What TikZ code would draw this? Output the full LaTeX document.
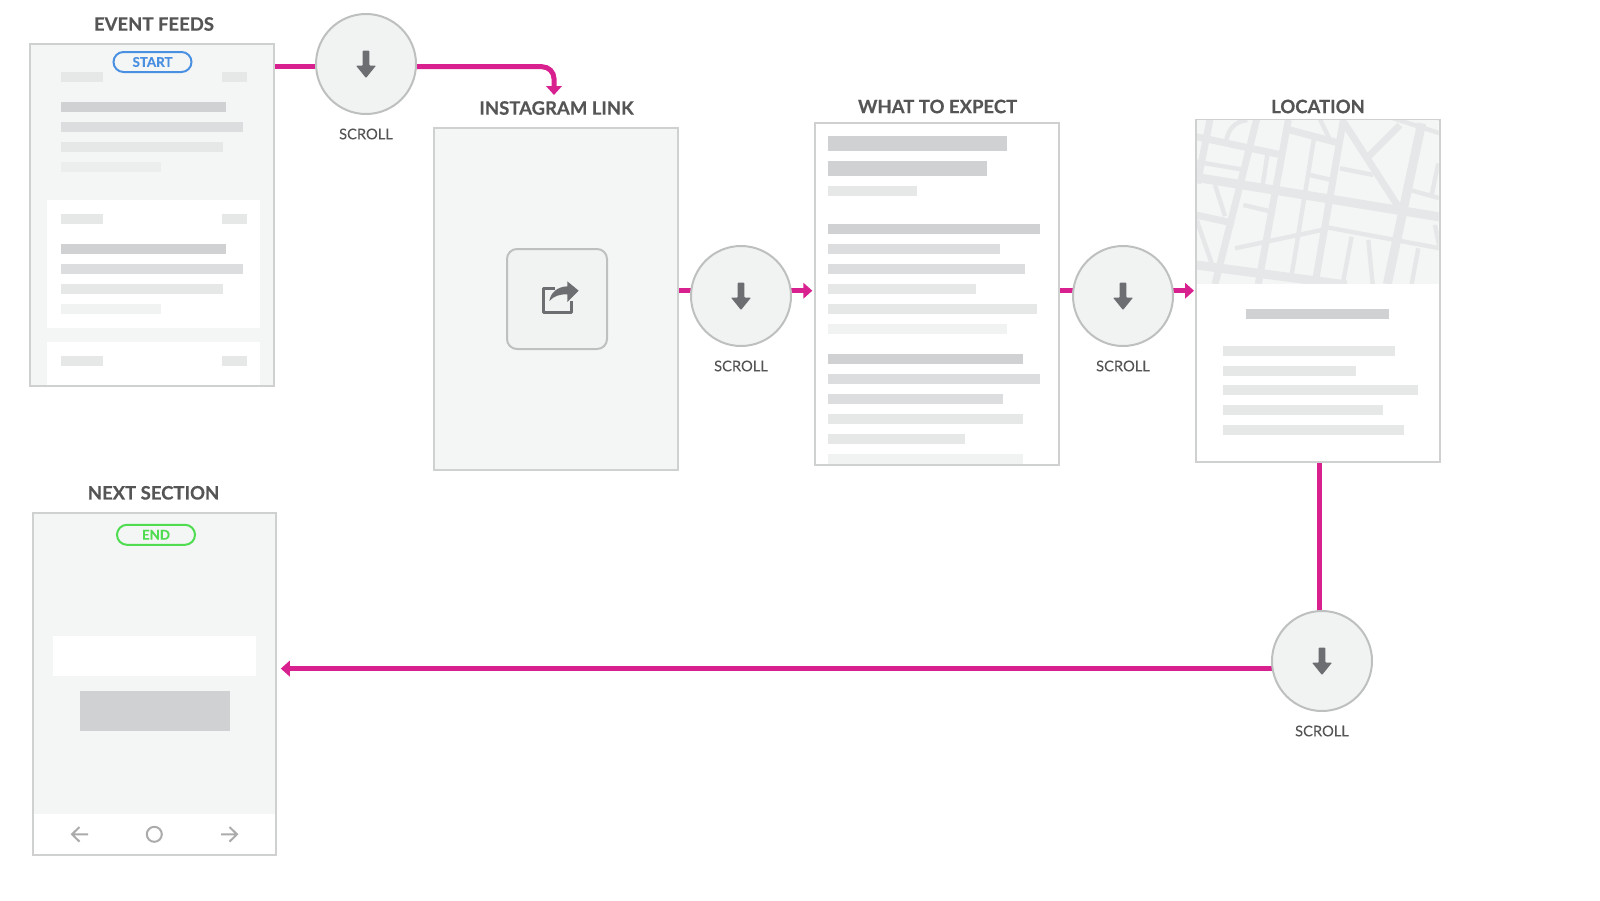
\documentclass[tikz,border=0pt]{standalone}
\usepackage{fontspec}
\setmainfont{Lato}
\newfontfamily\heavyfont[FakeBold=0.5]{Lato Bold}
\newfontfamily\scrollfont[FakeBold=0.12]{Lato}
\usetikzlibrary{arrows.meta,backgrounds}

\definecolor{flowpink}{HTML}{D9208F}
\definecolor{cardline}{HTML}{CFD1D1}
\definecolor{cardfill}{HTML}{F4F6F5}
\definecolor{ringline}{HTML}{BEBFBF}
\definecolor{ringfill}{HTML}{F1F2F2}
\definecolor{iconfill}{HTML}{6D6E71}
\definecolor{inktext}{HTML}{555555}
\definecolor{barA}{HTML}{D0D1D3}
\definecolor{barB}{HTML}{DCDDDE}
\definecolor{barC}{HTML}{E6E7E7}
\definecolor{barD}{HTML}{F1F2F2}
\definecolor{barE}{HTML}{ECEDED}
\definecolor{street}{HTML}{E6E7E8}
\definecolor{navgrey}{HTML}{ABABAB}
\definecolor{startblue}{HTML}{4A90E2}
\definecolor{endgreen}{HTML}{4FDC50}

\tikzset{
  card/.style={draw=cardline, line width=2pt, minimum width=243.8pt, minimum height=342pt, inner sep=0pt},
  ring/.style={circle, draw=ringline, fill=ringfill, line width=2pt, minimum size=100pt, inner sep=0pt},
  title/.style={text=inktext, font=\fontsize{18.5}{20}\heavyfont},
  scrolltext/.style={text=inktext, font=\fontsize{14.7}{16}\scrollfont},
  pill/.style={draw=#1, text=#1, line width=2pt, rounded corners=10pt, minimum width=78pt, minimum height=20pt, inner sep=0pt, font=\fontsize{13.3}{14}\heavyfont},
  flow/.style={draw=flowpink, line width=5pt},
  flowtip/.style={flow, -{Triangle[length=9pt,width=15.5pt]}},
  streetwide/.style={draw=street, line width=9pt},
  streetmid/.style={draw=street, line width=7pt},
  streetthin/.style={draw=street, line width=4.4pt},
  navline/.style={draw=navgrey, line width=2pt}
}

\begin{document}
\begin{tikzpicture}[x=1pt,y=-1pt]
\useasboundingbox (0,0) rectangle (1600,900);

% cards
\node[card, fill=cardfill] (feeds) at (152.3,215) {};
\node[card, fill=cardfill] (insta) at (556.2,298.6) {};
\node[card, fill=white] (expect) at (936.7,294) {};
\node[card, fill=white] (location) at (1317.9,291) {};
\node[card, fill=cardfill] (nextsec) at (154.4,683.8) {};

\node[title] (feedsTitle) at (154,24) {EVENT FEEDS};
\node[title] (instaTitle) at (556.6,108) {INSTAGRAM LINK};
\node[title] (expectTitle) at (937.6,106.5) {WHAT TO EXPECT};
\node[title] (locationTitle) at (1318,106.5) {LOCATION};
\node[title] (nextTitle) at (153.5,492.8) {NEXT SECTION};

% scroll circles
\node[ring] (scrollA) at (366,64) {};
\node[ring] (scrollB) at (741,296) {};
\node[ring] (scrollC) at (1123,296) {};
\node[ring] (scrollD) at (1322,661) {};

\node[scrolltext] (scrollAText) at (366,134) {SCROLL};
\node[scrolltext] (scrollBText) at (741,366) {SCROLL};
\node[scrolltext] (scrollCText) at (1123,366) {SCROLL};
\node[scrolltext] (scrollDText) at (1322,731) {SCROLL};

\foreach \n in {scrollA,scrollB,scrollC,scrollD}
  \fill[iconfill, shift={(\n)}, rounded corners=0.8pt] (-3.3,-13.3) -- (3.3,-13.3) -- (3.3,1.6) -- (10,1.6) -- (0,14) -- (-10,1.6) -- (-3.3,1.6) -- cycle;

% connectors
\begin{scope}[on background layer]
\coordinate (instaIn) at (554,95);
\draw[flow] (feeds.east |- 0,66.7) -- (scrollA.center |- 0,66.7);
\draw[flowtip, rounded corners=12pt] (scrollA.center |- 0,66.7) -| (instaIn);
\draw[flow] (insta.east |- 0,290.7) -- (scrollB.center |- 0,290.7);
\draw[flowtip, shorten >=1.5pt] (scrollB.center |- 0,290.7) -- (expect.west |- 0,290.7);
\draw[flow] (expect.east |- 0,290.7) -- (scrollC.center |- 0,290.7);
\draw[flowtip, shorten >=1pt] (scrollC.center |- 0,290.7) -- (location.west |- 0,290.7);
\draw[flow] ([xshift=2pt]location.south) -- ([xshift=2pt]location.south |- scrollD.center);
\draw[flowtip, shorten >=3.5pt] (scrollD.center |- 0,668.6) -- (nextsec.east |- 0,668.6);
\end{scope}

% event feeds
\fill[white] (47,200) rectangle (260,327.7);
\fill[white] (47,342) rectangle (260,384.8);
\foreach \xa/\xb/\ya/\c in {61/102.5/72/barC, 222/247/72/barC, 61/226/102/barA, 61/243/122/barB, 61/223/142/barC, 61/161/162/barE,
    61/102.5/214/barC, 222/247/214/barC, 61/226/244/barA, 61/243/264/barB, 61/223/284/barC, 61/161/304/barD,
    61/102.5/356/barC, 222/247/356/barC}
  \fill[\c] (\xa,\ya) rectangle (\xb,\ya+10);
\node[pill=startblue] (startTag) at (152.5,62) {\raisebox{-0.7pt}{START}};

% instagram link
\node[draw=ringline, fill=ringfill, line width=2pt, rounded corners=10pt, minimum size=100pt, inner sep=0pt] (shareBox) at (557,299) {};
\begin{scope}[shift={(480,230)},x=0.3333pt,y=-0.3333pt]
\draw[iconfill, line width=3pt, line join=round] (226,177) -- (191,177) -- (191,248) -- (276,248) -- (276,214);
\fill[iconfill] (296,182) -- (262,154) -- (262,169) .. controls (232,170) and (212,188) .. (208,213) .. controls (222,198) and (240,192) .. (262,193) -- (262,216) -- cycle;
\end{scope}

% what to expect
\foreach \xb/\ya/\yb/\c in {1007.3/136/150.7/barA, 987.3/161/176/barA, 917.3/186/196/barC,
    1040/224/234/barA, 1000/244/254/barB, 1025/264/274/barB, 976/284/294/barC, 1037/304/314/barC, 1007.3/324/334/barD,
    1023.3/354/364/barA, 1040/374/384/barB, 1003/394/404/barB, 1023.3/414/424/barC, 965.3/434/444/barC, 1023.3/454/464/barD}
  \fill[\c] (828,\ya) rectangle (\xb,\yb);

% location map
\begin{scope}[shift={(1160,100)},x=0.3333pt,y=-0.3333pt]
\clip (111,61) rectangle (836,552);
\fill[cardfill] (111,61) rectangle (836,552);
\draw[streetwide] (108,232) -- (840,351) (785,70) -- (682,552) (108,495) -- (560,555);
\draw[streetmid] (150,58) -- (112,250) (290,58) -- (165,552) (385,60) -- (295,552) (550,60) -- (465,552)
  (108,110) -- (375,167) (390,90) -- (540,130) (108,345) -- (222,370) (550,65) -- (715,320) (625,170) -- (720,75);
\draw[streetthin] (462,115) -- (395,525) (225,445) -- (485,390) (490,380) -- (840,445) (108,185) -- (255,210)
  (250,315) -- (335,335) (450,225) -- (515,240) (540,205) -- (640,225) (750,270) -- (840,295) (700,55) -- (840,100)
  (480,58) -- (510,120) (322,165) -- (308,255) (165,255) -- (195,348) (110,360) -- (155,490)
  (575,410) -- (548,552) (625,420) -- (638,552) (775,445) -- (755,552) (825,375) -- (840,450) (835,190) -- (815,285)
  (198,125) .. controls (205,85) and (225,65) .. (262,60);
\end{scope}
\foreach \xa/\xb/\ya/\c in {1246/1389.3/309/barA, 1223/1394.7/346/barC, 1223/1356/366/barC, 1223/1418.3/385/barC, 1223/1383/405/barC, 1223/1404.3/425/barC}
  \fill[\c] (\xa,\ya) rectangle (\xb,\ya+10);

% next section
\fill[white] (53,636) rectangle (256,675.7);
\fill[barA] (80,691) rectangle (230,730.7);
\fill[white] (33.5,814) rectangle (275.3,853.8);
\node[pill=endgreen] (endTag) at (156,534.8) {\raisebox{-0.7pt}{END}};
\node[draw=navgrey, line width=2pt, circle, minimum size=15pt, inner sep=0pt] (navHome) at (154.3,834.3) {};
\draw[navline] (88,834.3) -- (72,834.3) (79.5,827) -- (72,834.3) -- (79.5,841.6);
\draw[navline] (221,834.3) -- (237,834.3) (229.5,827) -- (237,834.3) -- (229.5,841.6);
\end{tikzpicture}
\end{document}
